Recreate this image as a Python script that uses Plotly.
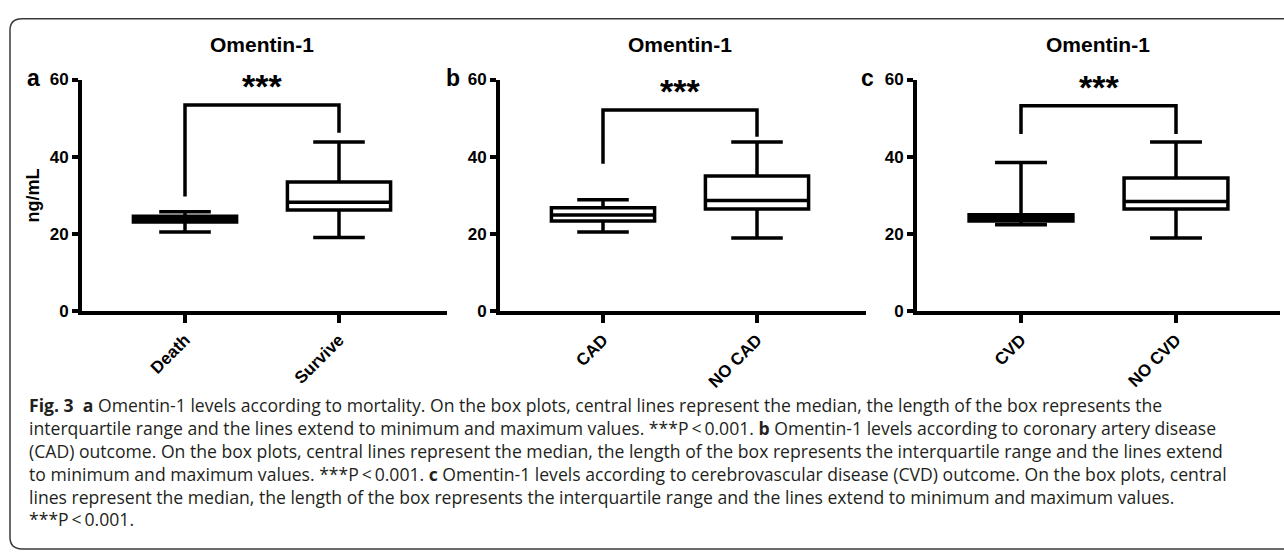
import plotly.graph_objects as go

W, H = 1284, 557

# ---------------- data ----------------
panel_letters = ["a", "b", "c"]
panel_titles = ["Omentin-1", "Omentin-1", "Omentin-1"]
categories = [["Death", "Survive"], ["CAD", "NO CAD"], ["CVD", "NO CVD"]]

q1 = [[23.1, 26.2], [23.4, 26.5], [23.4, 26.5]]
median = [[23.8, 28.2], [24.9, 28.7], [24.3, 28.4]]
q3 = [[24.6, 33.5], [26.8, 35.0], [25.0, 34.5]]
lower = [[20.5, 19.1], [20.5, 19.0], [22.4, 19.0]]
upper = [[25.8, 43.8], [28.9, 43.8], [38.5, 43.8]]

bracket_top = [53.4, 52.1, 53.2]
bracket_left_end = [29.7, 38.2, 45.9]
bracket_right_end = [46.2, 45.2, 45.9]
sig_label = "***"

y_ticks = [0, 20, 40, 60]
y_title = "ng/mL"

caption_lines = [
    "<b>Fig. 3</b>  <b>a</b> Omentin-1 levels according to mortality. On the box plots, central lines represent the median, the length of the box represents the",
    "interquartile range and the lines extend to minimum and maximum values. ***P\u2009<\u20090.001. <b>b</b> Omentin-1 levels according to coronary artery disease",
    "(CAD) outcome. On the box plots, central lines represent the median, the length of the box represents the interquartile range and the lines extend",
    "to minimum and maximum values. ***P\u2009<\u20090.001. <b>c</b> Omentin-1 levels according to cerebrovascular disease (CVD) outcome. On the box plots, central",
    "lines represent the median, the length of the box represents the interquartile range and the lines extend to minimum and maximum values.",
    "***P\u2009<\u20090.001.",
]

# ---------------- layout geometry (pixels) ----------------
axis_left_px = [82, 500, 917]
axis_right_px = [447, 866, 1280]
cat0_px = [185, 603, 1021]
cat_step_px = [154, 154, 155]
plot_top_px, plot_bottom_px = 73, 313
title_px = [262, 680, 1098]
letter_px = [33, 453, 867]

fx = lambda px: px / W
fy = lambda py: 1 - py / H

BOLD = "Liberation Sans, Arial, sans-serif"
fig = go.Figure()
layout = dict(
    width=W, height=H, margin=dict(l=0, r=0, t=0, b=0),
    paper_bgcolor="white", plot_bgcolor="rgba(0,0,0,0)",
    showlegend=False, annotations=[], shapes=[],
)

for i in range(3):
    xa = "x" if i == 0 else f"x{i+1}"
    ya = "y" if i == 0 else f"y{i+1}"
    xkey = "xaxis" if i == 0 else f"xaxis{i+1}"
    ykey = "yaxis" if i == 0 else f"yaxis{i+1}"
    cats = categories[i]
    fig.add_trace(go.Box(
        x=cats, q1=q1[i], median=median[i], q3=q3[i],
        lowerfence=lower[i], upperfence=upper[i],
        fillcolor="white", line=dict(color="black", width=3.5),
        width=0.67, whiskerwidth=0.5, boxpoints=False,
        xaxis=xa, yaxis=ya, hoverinfo="skip",
    ))
    fig.add_trace(go.Scatter(
        x=[cats[0], cats[0], cats[1], cats[1]],
        y=[bracket_left_end[i], bracket_top[i], bracket_top[i], bracket_right_end[i]],
        mode="lines", line=dict(color="black", width=3.5),
        xaxis=xa, yaxis=ya, hoverinfo="skip",
    ))
    step = cat_step_px[i]
    r0 = -(cat0_px[i] - axis_left_px[i]) / step
    r1 = 1 + (axis_right_px[i] - (cat0_px[i] + step)) / step
    layout[xkey] = dict(
        domain=[fx(axis_left_px[i]), fx(axis_right_px[i])], anchor=ya,
        type="category", categoryorder="array", categoryarray=cats,
        range=[r0, r1], showline=True, linecolor="black", linewidth=4,
        ticks="outside", ticklen=8, tickwidth=3.5, tickcolor="black",
        tickangle=-45, showgrid=False, zeroline=False,
        tickfont=dict(family=BOLD, size=17, color="black", weight="bold"),
    )
    layout[ykey] = dict(
        domain=[fy(plot_bottom_px), fy(plot_top_px)], anchor=xa,
        range=[0, 60], tickvals=y_ticks, showline=True, linecolor="black",
        linewidth=4, ticks="outside", ticklen=6, tickwidth=3.5, tickcolor="black",
        showgrid=False, zeroline=False,
        tickfont=dict(family=BOLD, size=17, color="black", weight="bold"),
    )
    layout["annotations"].append(dict(
        x=0.5, y=bracket_top[i], xref=xa, yref=ya, text=f"<b>{sig_label}</b>",
        showarrow=False, yanchor="bottom", yshift=-2,
        font=dict(family=BOLD, size=34, color="black"),
    ))
    layout["annotations"].append(dict(
        x=fx(title_px[i]), y=fy(37), xref="paper", yref="paper",
        text=f"<b>{panel_titles[i]}</b>", showarrow=False,
        xanchor="center", yanchor="middle",
        font=dict(family=BOLD, size=21, color="black"),
    ))
    layout["annotations"].append(dict(
        x=fx(letter_px[i]), y=fy(71), xref="paper", yref="paper",
        text=f"<b>{panel_letters[i]}</b>", showarrow=False,
        xanchor="center", yanchor="middle",
        font=dict(family=BOLD, size=23, color="black"),
    ))

layout["annotations"].append(dict(
    x=fx(33), y=fy(193), xref="paper", yref="paper", text=f"<b>{y_title}</b>",
    showarrow=False, textangle=-90, xanchor="center", yanchor="middle",
    font=dict(family=BOLD, size=18, color="black"),
))

# caption: one multi-line text block
layout["annotations"].append(dict(
    x=fx(27), y=fy(395), xref="paper", yref="paper",
    text="<br>".join(caption_lines), showarrow=False,
    xanchor="left", yanchor="top", align="left",
    font=dict(family="Open Sans, sans-serif", size=17.6, color="#231f20"),
))

# rounded frame around the figure
path = (f"M {fx(1300)},{fy(10)} L {fx(22)},{fy(10)} Q {fx(10)},{fy(10)} {fx(10)},{fy(22)} "
        f"L {fx(10)},{fy(547)} Q {fx(10)},{fy(559)} {fx(22)},{fy(559)} L {fx(1300)},{fy(559)}")
layout["shapes"].append(dict(type="path", path=path, xref="paper", yref="paper",
                             line=dict(color="#3a3a3a", width=1.5)))

fig.update_layout(**layout)
fig.write_html("out.html")
